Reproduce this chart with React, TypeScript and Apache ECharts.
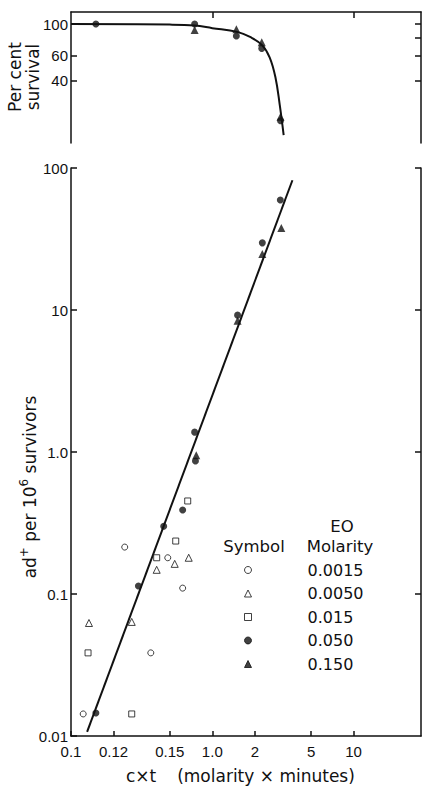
import React, { useEffect, useRef } from "react";
import * as echarts from "echarts";

// ---- tick values / labels ----
const xTickValues = [0.1, 0.2, 0.5, 1, 2, 5, 10];
const xTickLabels = ["0.1", "0.12", "0.15", "1.0", "2", "5", "10"];
const topXTickValues = [1, 10];
const yTickValues = [0.01, 0.1, 1, 10, 100];
const yTickLabels = ["0.01", "0.1", "1.0", "10", "100"];
const yRightTickValues = [0.1, 1, 10, 100];
const survTickValues = [40, 60, 80, 100];
const survTickLabels = ["40", "60", "80", "100"];

// ---- axis extents ----
const xMin = 0.1;
const xMax = 30;
const yMin = 0.01;
const yMax = 100;
const survMin = 14.5;
const survMax = 121.5;

// ---- legend ----
const molarities = ["0.0015", "0.0050", "0.015", "0.050", "0.150"];

// ---- bottom panel: ad+ per 10^6 survivors vs c x t ----
const m0015 = [[0.122, 0.0143], [0.24, 0.214], [0.367, 0.0385], [0.484, 0.18], [0.617, 0.11]];
const m0050 = [[0.134, 0.0625], [0.269, 0.0636], [0.404, 0.148], [0.542, 0.163], [0.681, 0.18]];
const m015 = [[0.132, 0.0385], [0.269, 0.0143], [0.404, 0.18], [0.551, 0.236], [0.67, 0.452]];
const m050 = [[0.15, 0.0145], [0.3, 0.114], [0.453, 0.3], [0.617, 0.39], [0.75, 1.38], [0.76, 0.865], [1.51, 9.2], [2.26, 29.7], [3.03, 59.6]];
const m150 = [[0.77, 0.95], [1.51, 8.4], [2.26, 24.8], [3.08, 37.8]];
const fitLine = [[0.13, 0.0107], [3.69, 82]];

// ---- top panel: per cent survival ----
const surv050 = [[0.15, 100], [0.75, 100], [1.48, 82.3], [2.24, 67.3], [3.04, 20.8]];
const surv150 = [[0.75, 90.7], [1.48, 91.7], [2.24, 74.3], [3.04, 22.2]];
const survCurve = [[0.1, 100], [0.5, 99], [0.75, 97.5], [1.0, 93.5], [1.5, 88], [1.85, 81], [2.25, 71], [2.55, 58], [2.8, 42], [3.0, 27], [3.2, 16.5]];

const L = Math.log10;
const logPts = (arr: number[][]) => arr.map((p) => [L(p[0]), L(p[1])]);
const labelFor = (vals: number[], labels: string[]) => (v: number) => {
  const i = vals.findIndex((t) => Math.abs(L(t) - v) < 1e-6);
  return i >= 0 ? labels[i] : "";
};
const blank = () => "";

const INK = "#111";
const TICK_FONT = { fontFamily: "Liberation Sans", fontSize: 15, color: INK };
const lineStyle = { color: INK, width: 1.5 };

export default function App() {
  const ref = useRef<HTMLDivElement>(null);
  useEffect(() => {
    if (!ref.current) return;
    const chart = echarts.init(ref.current, null, { renderer: "svg" });
    const hollow = { color: "#fff", borderColor: INK, borderWidth: 1 };
    const filled = { color: INK, borderColor: INK, borderWidth: 0 };
    const frameAxis = (extra: any, ticks: number[], len: number) => ({
      type: "value",
      ...extra,
      axisLine: { show: true, onZero: false, lineStyle },
      axisTick: { show: true, inside: true, length: len, lineStyle, customValues: ticks.map(L) },
      axisLabel: { show: true, margin: 2, customValues: ticks.map(L), formatter: blank, showMinLabel: true, showMaxLabel: true },
      splitLine: { show: false },
    });
    const option: any = {
      animation: false,
      backgroundColor: "#fff",
      grid: [
        { left: 71, right: 2, top: 12, height: 131, containLabel: false, outerBoundsMode: "none" },
        { left: 71, right: 2, top: 168, height: 568, containLabel: false, outerBoundsMode: "none" },
      ],
      xAxis: [
        frameAxis({ gridIndex: 0, position: "top", min: L(xMin), max: L(xMax) }, topXTickValues, 6),
        {
          type: "value", gridIndex: 1, position: "bottom", min: L(xMin), max: L(xMax),
          axisLine: { show: true, onZero: false, lineStyle },
          axisTick: { show: true, inside: true, length: 5, lineStyle, customValues: xTickValues.map(L) },
          axisLabel: { show: true, margin: 8, showMinLabel: true, showMaxLabel: true, customValues: xTickValues.map(L), formatter: labelFor(xTickValues, xTickLabels), ...TICK_FONT },
          splitLine: { show: false },
        },
      ],
      yAxis: [
        {
          type: "value", gridIndex: 0, position: "left", min: L(survMin), max: L(survMax),
          axisLine: { show: true, onZero: false, lineStyle },
          axisTick: { show: true, inside: true, length: 6, lineStyle, customValues: survTickValues.map(L) },
          axisLabel: { show: true, margin: 3, showMinLabel: true, showMaxLabel: true, customValues: survTickValues.map(L), formatter: labelFor(survTickValues, survTickLabels), ...TICK_FONT },
          splitLine: { show: false },
        },
        frameAxis({ gridIndex: 0, position: "right", min: L(survMin), max: L(survMax) }, survTickValues, 6),
        {
          type: "value", gridIndex: 1, position: "left", min: L(yMin), max: L(yMax),
          axisLine: { show: true, onZero: false, lineStyle },
          axisTick: { show: true, inside: true, length: 6, lineStyle, customValues: yTickValues.map(L) },
          axisLabel: { show: true, margin: 3, showMinLabel: true, showMaxLabel: true, customValues: yTickValues.map(L), formatter: labelFor(yTickValues, yTickLabels), ...TICK_FONT },
          splitLine: { show: false },
        },
        frameAxis({ gridIndex: 1, position: "right", min: L(yMin), max: L(yMax) }, yRightTickValues, 6),
      ],
      legend: {
        data: molarities.map((name) => ({ name })),
        orient: "vertical",
        left: 239,
        top: 556,
        itemWidth: 7,
        itemHeight: 7,
        itemGap: 5.5,
        selectedMode: false,
        itemStyle: { borderWidth: 1 },
        formatter: (name: string) => `{t|${name}}`,
        textStyle: {
          fontFamily: "DejaVu Sans", fontSize: 16, color: INK, lineHeight: 18,
          rich: { t: { fontFamily: "DejaVu Sans", fontSize: 16, color: INK, lineHeight: 18, padding: [0, 0, 0, 51] } },
        },
      },
      series: [
        { name: "0.0015", type: "scatter", xAxisIndex: 1, yAxisIndex: 2, symbol: "circle", symbolSize: 6, itemStyle: hollow, data: logPts(m0015), z: 5 },
        { name: "0.0050", type: "scatter", xAxisIndex: 1, yAxisIndex: 2, symbol: "triangle", symbolSize: 7, itemStyle: hollow, data: logPts(m0050), z: 5 },
        { name: "0.015", type: "scatter", xAxisIndex: 1, yAxisIndex: 2, symbol: "rect", symbolSize: 6, itemStyle: hollow, data: logPts(m015), z: 5 },
        { name: "0.050", type: "scatter", xAxisIndex: 1, yAxisIndex: 2, symbol: "circle", symbolSize: 7, itemStyle: filled, data: logPts(m050), z: 5 },
        { name: "0.150", type: "scatter", xAxisIndex: 1, yAxisIndex: 2, symbol: "triangle", symbolSize: 8, itemStyle: filled, data: logPts(m150), z: 5 },
        { name: "fit", type: "line", xAxisIndex: 1, yAxisIndex: 2, showSymbol: false, symbol: "none", lineStyle: { color: INK, width: 2 }, data: logPts(fitLine), z: 3 },
        { name: "0.050", type: "scatter", xAxisIndex: 0, yAxisIndex: 0, symbol: "circle", symbolSize: 7, itemStyle: filled, data: logPts(surv050), z: 5 },
        { name: "0.150", type: "scatter", xAxisIndex: 0, yAxisIndex: 0, symbol: "triangle", symbolSize: 8, itemStyle: filled, data: logPts(surv150), z: 5 },
        { name: "survival", type: "line", xAxisIndex: 0, yAxisIndex: 0, showSymbol: false, symbol: "none", smooth: 0.4, lineStyle: { color: INK, width: 2 }, data: logPts(survCurve), z: 3 },
      ],
      graphic: [
        {
          type: "text", x: 24, y: 77, rotation: Math.PI / 2,
          style: { text: "Per cent\nsurvival", fontFamily: "DejaVu Sans", fontSize: 17, lineHeight: 18, fill: INK, align: "center", verticalAlign: "middle" },
        },
        {
          type: "text", x: 30, y: 487, rotation: Math.PI / 2,
          style: {
            text: "ad{sup|+} per 10{sup|6} survivors",
            fontFamily: "DejaVu Sans", fontSize: 17, fill: INK, align: "center", verticalAlign: "middle", lineHeight: 24,
            rich: { sup: { fontFamily: "DejaVu Sans", fontSize: 12, fill: INK, verticalAlign: "top", lineHeight: 14 } },
          },
        },
        {
          type: "text", x: 141, y: 776,
          style: { text: "c×t", fontFamily: "DejaVu Sans", fontSize: 17, fill: INK, align: "center", verticalAlign: "middle" },
        },
        {
          type: "text", x: 266, y: 776,
          style: { text: "(molarity × minutes)", fontFamily: "DejaVu Sans", fontSize: 17, fill: INK, align: "center", verticalAlign: "middle" },
        },
        {
          type: "text", x: 254, y: 546,
          style: { text: "Symbol", fontFamily: "DejaVu Sans", fontSize: 16.5, fill: INK, align: "center", verticalAlign: "middle" },
        },
        {
          type: "text", x: 342, y: 526,
          style: { text: "EO", fontFamily: "DejaVu Sans", fontSize: 16.5, fill: INK, align: "center", verticalAlign: "middle" },
        },
        {
          type: "text", x: 340, y: 546,
          style: { text: "Molarity", fontFamily: "DejaVu Sans", fontSize: 16.5, fill: INK, align: "center", verticalAlign: "middle" },
        },
      ],
    };
    chart.setOption(option);
    return () => chart.dispose();
  }, []);
  return (
    <div
      ref={ref}
      style={{ position: "absolute", left: 0, top: 0, width: 423, height: 787, background: "#fff" }}
    />
  );
}
